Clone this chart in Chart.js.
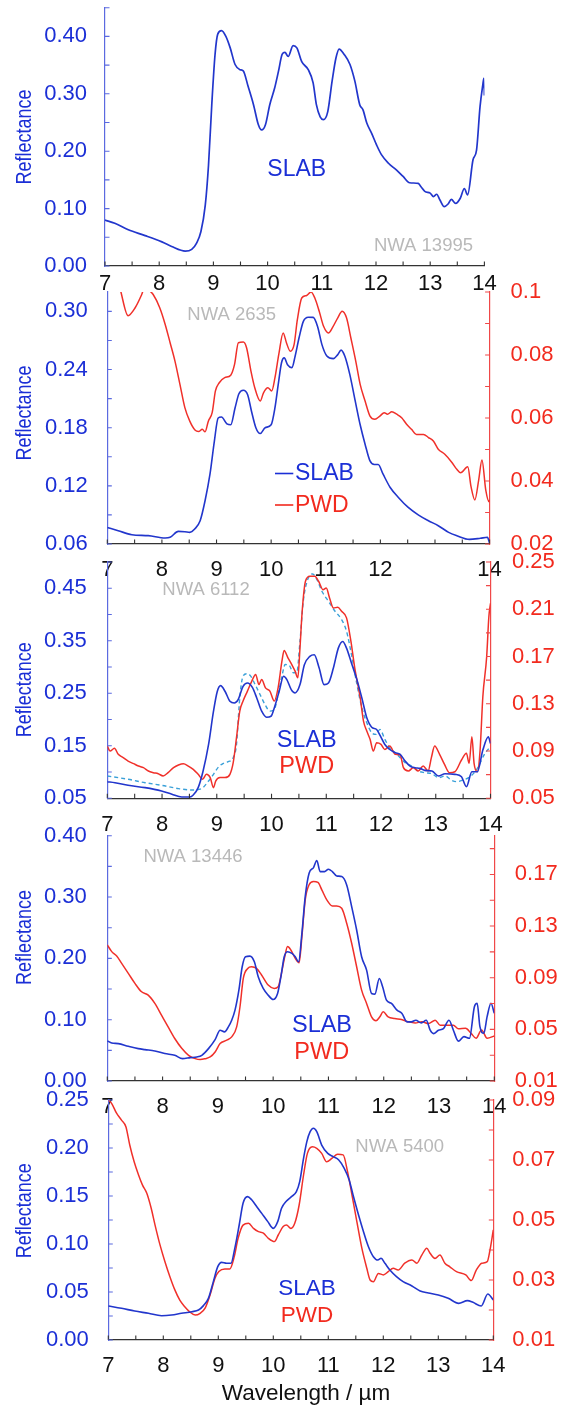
<!DOCTYPE html>
<html><head><meta charset="utf-8">
<style>
html,body{margin:0;padding:0;background:#fff;}
body{width:565px;height:1405px;position:relative;overflow:hidden;}
canvas{position:absolute;left:0;}
</style>
<script src="https://cdn.jsdelivr.net/npm/chart.js@4.4.1/dist/chart.umd.min.js"></script>
</head><body>
<script>
// ---------------- DATA ----------------
const xTicks = [7, 8, 9, 10, 11, 12, 13, 14];
const xLabels = ['7', '8', '9', '10', '11', '12', '13', '14'];
const xMarks = [7, 7.5, 8, 8.5, 9, 9.5, 10, 10.5, 11, 11.5, 12, 12.5, 13, 13.5, 14];

// Panel 1 : NWA 13995
const p1YTicks = [0, 0.1, 0.2, 0.3, 0.4];
const p1YLabels = ['0.00', '0.10', '0.20', '0.30', '0.40'];
const p1YMarks = [0, 0.05, 0.1, 0.15, 0.2, 0.25, 0.3, 0.35, 0.4, 0.45];
const p1Slab = [[7.0,0.080],[7.18,0.0744],[7.43,0.063],[7.74,0.053],[8.05,0.042],[8.23,0.034],[8.48,0.026],[8.6,0.029],[8.69,0.040],[8.77,0.060],[8.85,0.106],[8.91,0.176],[8.97,0.281],[9.03,0.368],[9.08,0.404],[9.15,0.410],[9.23,0.400],[9.31,0.380],[9.40,0.351],[9.49,0.342],[9.55,0.340],[9.64,0.313],[9.74,0.281],[9.83,0.246],[9.89,0.237],[9.96,0.246],[10.04,0.281],[10.13,0.310],[10.20,0.339],[10.27,0.369],[10.32,0.372],[10.38,0.365],[10.47,0.384],[10.54,0.380],[10.63,0.356],[10.75,0.342],[10.84,0.319],[10.90,0.281],[10.97,0.260],[11.03,0.255],[11.11,0.269],[11.19,0.322],[11.26,0.362],[11.32,0.378],[11.41,0.369],[11.52,0.351],[11.61,0.322],[11.70,0.281],[11.76,0.272],[11.83,0.249],[11.92,0.231],[12.01,0.211],[12.10,0.194],[12.23,0.179],[12.38,0.167],[12.50,0.156],[12.62,0.145],[12.78,0.144],[12.83,0.138],[12.90,0.130],[13.0,0.127],[13.06,0.121],[13.12,0.125],[13.18,0.115],[13.26,0.1035],[13.33,0.108],[13.39,0.116],[13.47,0.109],[13.555,0.118],[13.63,0.135],[13.69,0.124],[13.79,0.185],[13.855,0.202],[13.92,0.278],[13.97,0.315],[13.99,0.327],[14.0,0.297]];

// Panel 2 : NWA 2635
const p2YTicks = [0.06, 0.12, 0.18, 0.24, 0.30];
const p2YLabels = ['0.06', '0.12', '0.18', '0.24', '0.30'];
const p2YMarks = [0.06, 0.09, 0.12, 0.15, 0.18, 0.21, 0.24, 0.27, 0.30];
const p2RTicks = [0.02, 0.04, 0.06, 0.08, 0.1];
const p2RLabels = ['0.02', '0.04', '0.06', '0.08', '0.1'];
const p2RMarks = [0.02, 0.03, 0.04, 0.05, 0.06, 0.07, 0.08, 0.09, 0.1];
const p2Slab = [[7.0,0.0771],[7.2,0.0737],[7.45,0.0696],[7.75,0.0686],[8.06,0.0662],[8.15,0.0669],[8.30,0.073],[8.42,0.0727],[8.51,0.072],[8.6,0.0754],[8.7,0.084],[8.79,0.1046],[8.88,0.132],[8.96,0.166],[9.03,0.19],[9.09,0.191],[9.19,0.184],[9.26,0.183],[9.34,0.2006],[9.41,0.215],[9.49,0.2187],[9.57,0.214],[9.64,0.197],[9.72,0.18],[9.80,0.174],[9.89,0.18],[10.0,0.183],[10.07,0.2006],[10.13,0.2246],[10.19,0.247],[10.24,0.252],[10.30,0.245],[10.38,0.242],[10.44,0.254],[10.51,0.2725],[10.59,0.2897],[10.68,0.294],[10.77,0.2938],[10.85,0.2845],[10.93,0.2657],[11.02,0.254],[11.14,0.2513],[11.22,0.2554],[11.28,0.26],[11.35,0.2537],[11.44,0.235],[11.54,0.2074],[11.63,0.183],[11.72,0.163],[11.81,0.1457],[11.89,0.142],[11.96,0.142],[12.05,0.132],[12.18,0.1183],[12.33,0.108],[12.51,0.0977],[12.70,0.0898],[12.88,0.084],[13.06,0.0789],[13.25,0.072],[13.40,0.0686],[13.63,0.0648],[13.83,0.0659],[13.96,0.0669],[14.0,0.0607]];
const p2Pwd = [[7.1,0.112],[7.2,0.104],[7.25,0.1],[7.38,0.0925],[7.51,0.095],[7.63,0.0992],[7.68,0.1013],[7.75,0.1007],[7.84,0.0992],[7.96,0.095],[8.06,0.0897],[8.15,0.0839],[8.24,0.078],[8.33,0.0707],[8.42,0.0633],[8.51,0.059],[8.61,0.0561],[8.67,0.0557],[8.74,0.0564],[8.79,0.0556],[8.85,0.059],[8.92,0.0617],[8.98,0.0686],[9.05,0.0712],[9.15,0.0728],[9.26,0.0736],[9.33,0.077],[9.40,0.0839],[9.49,0.0841],[9.55,0.0823],[9.63,0.0749],[9.70,0.0696],[9.80,0.0654],[9.86,0.068],[9.94,0.0696],[10.01,0.0686],[10.07,0.0728],[10.14,0.0802],[10.22,0.087],[10.28,0.0839],[10.35,0.0812],[10.42,0.0833],[10.48,0.0912],[10.56,0.0981],[10.65,0.0989],[10.73,0.1],[10.80,0.0981],[10.88,0.0939],[10.96,0.0891],[11.05,0.087],[11.12,0.0886],[11.22,0.0918],[11.30,0.0939],[11.38,0.0918],[11.46,0.0854],[11.55,0.078],[11.63,0.0707],[11.72,0.0654],[11.81,0.0606],[11.90,0.0596],[11.99,0.0606],[12.07,0.0617],[12.13,0.0612],[12.21,0.062],[12.30,0.0612],[12.39,0.0601],[12.48,0.058],[12.57,0.0564],[12.66,0.0548],[12.79,0.0548],[12.88,0.0538],[12.97,0.0527],[13.06,0.0501],[13.18,0.0485],[13.31,0.0459],[13.40,0.0437],[13.47,0.0426],[13.6,0.0445],[13.66,0.0382],[13.73,0.034],[13.8,0.0403],[13.86,0.0467],[13.93,0.0371],[13.99,0.0334],[14.0,0.034]];

// Panel 3 : NWA 6112
const p3YTicks = [0.05, 0.15, 0.25, 0.35, 0.45];
const p3YLabels = ['0.05', '0.15', '0.25', '0.35', '0.45'];
const p3YMarks = [0.05, 0.1, 0.15, 0.2, 0.25, 0.3, 0.35, 0.4, 0.45, 0.5];
const p3RTicks = [0.05, 0.09, 0.13, 0.17, 0.21, 0.25];
const p3RLabels = ['0.05', '0.09', '0.13', '0.17', '0.21', '0.25'];
const p3RMarks = [0.05, 0.07, 0.09, 0.11, 0.13, 0.15, 0.17, 0.19, 0.21, 0.23, 0.25];
const p3Slab = [[7.0,0.0816],[7.14,0.0797],[7.38,0.0747],[7.69,0.0703],[7.99,0.0639],[8.18,0.0576],[8.36,0.0525],[8.51,0.0525],[8.57,0.0563],[8.66,0.0703],[8.75,0.102],[8.85,0.1525],[8.94,0.2158],[9.01,0.2538],[9.07,0.2646],[9.15,0.2538],[9.24,0.2348],[9.32,0.2316],[9.39,0.238],[9.48,0.2633],[9.56,0.2696],[9.65,0.2614],[9.73,0.2411],[9.82,0.2158],[9.91,0.2044],[9.99,0.2063],[10.06,0.2253],[10.14,0.2538],[10.22,0.2823],[10.28,0.276],[10.36,0.257],[10.43,0.2506],[10.52,0.2665],[10.60,0.3044],[10.70,0.3203],[10.78,0.3234],[10.87,0.2981],[10.96,0.2665],[11.04,0.2696],[11.13,0.2981],[11.22,0.336],[11.30,0.3487],[11.37,0.336],[11.46,0.3076],[11.56,0.276],[11.65,0.2411],[11.74,0.2032],[11.83,0.1854],[11.92,0.181],[11.98,0.1703],[12.07,0.1525],[12.16,0.143],[12.26,0.1367],[12.35,0.1335],[12.44,0.1209],[12.53,0.1114],[12.62,0.1082],[12.71,0.107],[12.80,0.1032],[12.93,0.1019],[13.05,0.0924],[13.17,0.0968],[13.35,0.0956],[13.47,0.091],[13.56,0.072],[13.66,0.1005],[13.76,0.1005],[13.86,0.1418],[13.96,0.167],[14.0,0.1544]];
const p3Pwd = [[7.0,0.0942],[7.05,0.09],[7.13,0.0923],[7.2,0.0872],[7.29,0.0844],[7.38,0.0815],[7.48,0.0793],[7.57,0.0773],[7.66,0.0759],[7.75,0.0731],[7.84,0.0717],[7.93,0.0708],[8.02,0.0689],[8.11,0.0717],[8.21,0.0759],[8.30,0.0782],[8.39,0.0793],[8.48,0.0773],[8.57,0.0745],[8.66,0.0703],[8.74,0.0661],[8.81,0.0703],[8.88,0.0675],[8.94,0.059],[8.98,0.0646],[9.06,0.0675],[9.15,0.0675],[9.24,0.0703],[9.30,0.0801],[9.36,0.1013],[9.42,0.1238],[9.48,0.1323],[9.56,0.1407],[9.64,0.1492],[9.71,0.1548],[9.77,0.1463],[9.82,0.1506],[9.89,0.1435],[9.97,0.1407],[10.05,0.1323],[10.12,0.1435],[10.19,0.1661],[10.23,0.1751],[10.30,0.1689],[10.37,0.1632],[10.43,0.1576],[10.48,0.152],[10.52,0.1773],[10.56,0.2083],[10.62,0.2337],[10.70,0.2379],[10.79,0.2379],[10.86,0.2337],[10.94,0.2266],[11.0,0.228],[11.06,0.2196],[11.13,0.2111],[11.21,0.2117],[11.28,0.2083],[11.37,0.2027],[11.45,0.183],[11.52,0.1604],[11.62,0.1351],[11.68,0.1154],[11.74,0.1069],[11.80,0.0999],[11.86,0.09],[11.92,0.097],[12.0,0.0956],[12.07,0.0914],[12.16,0.0942],[12.26,0.0872],[12.35,0.0866],[12.41,0.0759],[12.50,0.0731],[12.59,0.0759],[12.68,0.0731],[12.77,0.0773],[12.86,0.0731],[12.92,0.0844],[12.98,0.0942],[13.07,0.0872],[13.16,0.0787],[13.25,0.0717],[13.35,0.0725],[13.47,0.0824],[13.56,0.0881],[13.61,0.0796],[13.66,0.1021],[13.70,0.0796],[13.76,0.0725],[13.81,0.0909],[13.86,0.136],[13.93,0.1698],[13.97,0.2037],[14.0,0.215]];
const p3PwdDash = [[7.0,0.0689],[7.38,0.0661],[7.69,0.0632],[7.99,0.061],[8.30,0.0582],[8.54,0.057],[8.72,0.0582],[8.85,0.0646],[8.94,0.0703],[9.03,0.0765],[9.12,0.0796],[9.21,0.081],[9.30,0.0844],[9.36,0.0956],[9.42,0.1351],[9.48,0.1534],[9.55,0.1554],[9.62,0.1534],[9.70,0.1463],[9.79,0.1379],[9.88,0.1294],[9.97,0.1238],[10.05,0.1252],[10.12,0.1379],[10.19,0.1534],[10.25,0.1632],[10.32,0.1627],[10.40,0.1562],[10.46,0.1562],[10.52,0.183],[10.58,0.2168],[10.66,0.2351],[10.75,0.2399],[10.83,0.2351],[10.92,0.2252],[11.04,0.2168],[11.16,0.2083],[11.28,0.2013],[11.37,0.1914],[11.46,0.1717],[11.56,0.1463],[11.65,0.1266],[11.74,0.1139],[11.83,0.1055],[11.91,0.1041],[11.98,0.1083],[12.07,0.0999],[12.16,0.0928],[12.26,0.0886],[12.35,0.0844],[12.44,0.0801],[12.56,0.0773],[12.68,0.0731],[12.80,0.0717],[12.93,0.0708],[13.05,0.0675],[13.17,0.0689],[13.29,0.0652],[13.38,0.0641],[13.50,0.0655],[13.63,0.0683],[13.76,0.0754],[13.90,0.0881],[14.0,0.0937]];

// Panel 4 : NWA 13446
const p4YTicks = [0, 0.1, 0.2, 0.3, 0.4];
const p4YLabels = ['0.00', '0.10', '0.20', '0.30', '0.40'];
const p4YMarks = [0, 0.05, 0.1, 0.15, 0.2, 0.25, 0.3, 0.35, 0.4];
const p4RTicks = [0.01, 0.05, 0.09, 0.13, 0.17];
const p4RLabels = ['0.01', '0.05', '0.09', '0.13', '0.17'];
const p4RMarks = [0.01, 0.03, 0.05, 0.07, 0.09, 0.11, 0.13, 0.15, 0.17, 0.19];
const p4Slab = [[7.0,0.0654],[7.08,0.0621],[7.2,0.061],[7.38,0.0566],[7.56,0.0528],[7.68,0.0512],[7.86,0.049],[8.04,0.0447],[8.22,0.0419],[8.36,0.0365],[8.50,0.0381],[8.62,0.0392],[8.71,0.0419],[8.83,0.0528],[8.95,0.0675],[9.04,0.0828],[9.12,0.0801],[9.19,0.0882],[9.25,0.0991],[9.31,0.1155],[9.38,0.1481],[9.44,0.1863],[9.50,0.2026],[9.58,0.2037],[9.66,0.1944],[9.73,0.1699],[9.82,0.1509],[9.91,0.14],[10.0,0.1329],[10.08,0.1427],[10.14,0.1699],[10.20,0.2026],[10.26,0.2108],[10.34,0.2081],[10.40,0.2026],[10.46,0.1944],[10.52,0.2407],[10.58,0.3007],[10.65,0.3388],[10.73,0.348],[10.79,0.3595],[10.85,0.3415],[10.93,0.3415],[11.0,0.3453],[11.07,0.3415],[11.15,0.3344],[11.24,0.3333],[11.33,0.3197],[11.42,0.2843],[11.51,0.2462],[11.60,0.2026],[11.69,0.1808],[11.78,0.1427],[11.84,0.1416],[11.92,0.1672],[11.98,0.1536],[12.05,0.1318],[12.14,0.1264],[12.24,0.1155],[12.33,0.11],[12.42,0.0964],[12.50,0.0964],[12.58,0.0991],[12.68,0.0948],[12.77,0.0991],[12.84,0.0828],[12.90,0.0773],[12.99,0.0828],[13.08,0.0855],[13.18,0.0991],[13.26,0.0828],[13.35,0.065],[13.45,0.0723],[13.55,0.0696],[13.64,0.1212],[13.69,0.1268],[13.74,0.0886],[13.81,0.0778],[13.87,0.1049],[13.94,0.1268],[14.0,0.1104]];
const p4Pwd = [[7.0,0.1154],[7.08,0.1102],[7.17,0.1068],[7.26,0.1011],[7.38,0.0934],[7.50,0.0856],[7.62,0.0791],[7.74,0.0765],[7.86,0.0701],[7.98,0.061],[8.10,0.0519],[8.22,0.0429],[8.35,0.0351],[8.47,0.0299],[8.59,0.0273],[8.68,0.0266],[8.77,0.0273],[8.86,0.0286],[8.95,0.0325],[9.04,0.039],[9.16,0.0416],[9.25,0.0442],[9.34,0.0519],[9.40,0.0675],[9.46,0.0895],[9.54,0.0972],[9.61,0.0985],[9.70,0.0972],[9.79,0.0921],[9.91,0.0843],[10.02,0.0817],[10.09,0.083],[10.15,0.0934],[10.21,0.1063],[10.26,0.1141],[10.32,0.1115],[10.40,0.105],[10.47,0.1016],[10.52,0.1218],[10.58,0.1503],[10.65,0.162],[10.73,0.1645],[10.81,0.1638],[10.88,0.1581],[10.97,0.1503],[11.07,0.1456],[11.15,0.1456],[11.24,0.1438],[11.33,0.1322],[11.42,0.1167],[11.51,0.0985],[11.60,0.0804],[11.69,0.0701],[11.78,0.0597],[11.86,0.0566],[11.93,0.0597],[11.99,0.0636],[12.08,0.0597],[12.20,0.0584],[12.32,0.0576],[12.45,0.0558],[12.57,0.055],[12.69,0.0558],[12.81,0.0545],[12.93,0.0571],[13.02,0.0532],[13.14,0.0532],[13.26,0.0532],[13.35,0.0505],[13.48,0.0508],[13.58,0.0469],[13.67,0.0431],[13.77,0.0495],[13.87,0.0431],[14.0,0.0449]];

// Panel 5 : NWA 5400
const p5YTicks = [0, 0.05, 0.1, 0.15, 0.2, 0.25];
const p5YLabels = ['0.00', '0.05', '0.10', '0.15', '0.20', '0.25'];
const p5YMarks = [0, 0.025, 0.05, 0.075, 0.1, 0.125, 0.15, 0.175, 0.2, 0.225, 0.25];
const p5RTicks = [0.01, 0.03, 0.05, 0.07, 0.09];
const p5RLabels = ['0.01', '0.03', '0.05', '0.07', '0.09'];
const p5RMarks = [0.01, 0.02, 0.03, 0.04, 0.05, 0.06, 0.07, 0.08, 0.09];
const p5Slab = [[7.0,0.0354],[7.24,0.033],[7.48,0.0302],[7.73,0.0278],[7.97,0.0253],[8.15,0.026],[8.33,0.0278],[8.52,0.0295],[8.64,0.0312],[8.73,0.0358],[8.82,0.0434],[8.91,0.0608],[8.99,0.0764],[9.06,0.0809],[9.15,0.0799],[9.23,0.0799],[9.30,0.0955],[9.38,0.1198],[9.45,0.1424],[9.53,0.1493],[9.61,0.1458],[9.70,0.1389],[9.79,0.1319],[9.90,0.1233],[10.0,0.1163],[10.08,0.1233],[10.15,0.1372],[10.24,0.1448],[10.33,0.1493],[10.42,0.1545],[10.48,0.1649],[10.55,0.1892],[10.61,0.2066],[10.67,0.217],[10.73,0.2205],[10.79,0.217],[10.88,0.2031],[10.99,0.1944],[11.09,0.191],[11.19,0.1875],[11.29,0.1788],[11.38,0.1667],[11.45,0.151],[11.55,0.1302],[11.64,0.1128],[11.73,0.0972],[11.82,0.0868],[11.90,0.0833],[11.96,0.0851],[12.03,0.0799],[12.12,0.0729],[12.24,0.066],[12.36,0.0608],[12.52,0.0563],[12.67,0.051],[12.82,0.049],[13.0,0.0469],[13.18,0.0434],[13.37,0.0382],[13.53,0.041],[13.63,0.0392],[13.78,0.0354],[13.90,0.0479],[14.0,0.0417]];
const p5Pwd = [[7.0,0.09],[7.06,0.0889],[7.15,0.0856],[7.24,0.0833],[7.32,0.0811],[7.39,0.075],[7.47,0.0694],[7.55,0.065],[7.62,0.0617],[7.70,0.0589],[7.78,0.0539],[7.85,0.0483],[7.94,0.0417],[8.03,0.0361],[8.12,0.0311],[8.21,0.0267],[8.30,0.0233],[8.39,0.0211],[8.48,0.0194],[8.58,0.0183],[8.67,0.0189],[8.76,0.0206],[8.85,0.025],[8.94,0.0306],[9.01,0.0328],[9.12,0.0337],[9.21,0.0337],[9.29,0.0378],[9.36,0.0439],[9.45,0.0483],[9.55,0.0489],[9.64,0.0472],[9.73,0.0461],[9.82,0.0456],[9.91,0.0439],[10.02,0.0428],[10.09,0.045],[10.18,0.0478],[10.24,0.0483],[10.32,0.0472],[10.39,0.0489],[10.47,0.055],[10.55,0.065],[10.62,0.0722],[10.71,0.0744],[10.79,0.0739],[10.88,0.0722],[10.97,0.0694],[11.07,0.0706],[11.17,0.0719],[11.27,0.0717],[11.35,0.0661],[11.42,0.0594],[11.52,0.0494],[11.61,0.0406],[11.70,0.0339],[11.76,0.03],[11.82,0.0294],[11.91,0.0322],[12.0,0.0317],[12.09,0.0328],[12.18,0.0339],[12.27,0.0333],[12.39,0.0356],[12.52,0.0367],[12.61,0.0356],[12.70,0.0383],[12.79,0.0406],[12.85,0.0389],[12.94,0.0372],[13.03,0.0383],[13.12,0.0356],[13.21,0.0344],[13.33,0.0328],[13.50,0.0317],[13.60,0.0298],[13.69,0.0333],[13.79,0.0356],[13.89,0.0361],[13.94,0.04],[14.0,0.0467]];

// ---------------- STYLE / LAYOUT ----------------
const FONT = '"Liberation Sans", Arial, Helvetica, sans-serif';
const C = {
  blueText: '#1b2fd6', redText: '#f22a1e', blueLine: '#2236cc', redLine: '#f0302a',
  dash: '#3aa0d8', axL: '#5b6ae0', axR: '#f04848', axX: '#333333', gray: '#b9b9b9', black: '#111111'
};

const panels = [
  { L:105, R:484.4, T:7.7, B:266, bm:40, xPad:5,
    yL:{min:0, max:0.45, ticks:p1YTicks, labels:p1YLabels, marks:p1YMarks, pad:18},
    yR:null,
    series:[{data:p1Slab, axis:'y', color:C.blueLine, w:1.7}],
    texts:[
      {t:'SLAB', x:296.7, y:169.5, size:23, color:C.blueText},
      {t:'NWA 13995', x:423.5, y:245.5, size:18.5, color:C.gray},
      {t:'Reflectance', x:25, y:137, size:18, color:C.blueText, rot:true, sx:1.2}
    ], lines:[], masks:[] },
  { L:107.3, R:489.6, T:292, B:544, bm:45, xPad:13,
    yL:{min:0.06, max:0.32, ticks:p2YTicks, labels:p2YLabels, marks:p2YMarks, pad:19.5},
    yR:{min:0.02, max:0.1, ticks:p2RTicks, labels:p2RLabels, marks:p2RMarks, pad:21},
    series:[{data:p2Slab, axis:'y', color:C.blueLine, w:1.6},{data:p2Pwd, axis:'y2', color:C.redLine, w:1.5}],
    texts:[
      {t:'NWA 2635', x:231.7, y:314.7, size:18.5, color:C.gray},
      {t:'SLAB', x:295, y:474, size:23, color:C.blueText, align:'left'},
      {t:'PWD', x:295, y:506, size:23, color:C.redText, align:'left'},
      {t:'Reflectance', x:25, y:413, size:18, color:C.blueText, rot:true, sx:1.2}
    ],
    lines:[{x1:275, x2:293.3, y:473.5, color:C.blueText},{x1:275, x2:293.3, y:505, color:C.redText}], masks:[] },
  { L:107.3, R:490.5, T:562, B:798.3, bm:45, xPad:13,
    yL:{min:0.05, max:0.5, ticks:p3YTicks, labels:p3YLabels, marks:p3YMarks, pad:20.5},
    yR:{min:0.05, max:0.25, ticks:p3RTicks, labels:p3RLabels, marks:p3RMarks, pad:21.5},
    series:[{data:p3Slab, axis:'y', color:C.blueLine, w:1.6},{data:p3Pwd, axis:'y2', color:C.redLine, w:1.5},{data:p3PwdDash, axis:'y2', color:C.dash, w:1.4, dash:[4,3]}],
    texts:[
      {t:'NWA 6112', x:206, y:590, size:18.5, color:C.gray},
      {t:'SLAB', x:306.7, y:741, size:23.5, color:C.blueText},
      {t:'PWD', x:306.7, y:767, size:23.5, color:C.redText},
      {t:'Reflectance', x:25, y:689.7, size:18, color:C.blueText, rot:true, sx:1.2}
    ], lines:[],
    masks:[[115, 576.5, 470, 600],[420, 556, 452, 577]] },
  { L:107.3, R:494.3, T:835.7, B:1081, bm:45, xPad:13,
    yL:{min:0, max:0.4, ticks:p4YTicks, labels:p4YLabels, marks:p4YMarks, pad:20.5},
    yR:{min:0.01, max:0.2, ticks:p4RTicks, labels:p4RLabels, marks:p4RMarks, pad:20.5},
    series:[{data:p4Slab, axis:'y', color:C.blueLine, w:1.6},{data:p4Pwd, axis:'y2', color:C.redLine, w:1.5}],
    texts:[
      {t:'NWA 13446', x:193, y:857.3, size:18.5, color:C.gray},
      {t:'SLAB', x:322, y:1026, size:23.5, color:C.blueText},
      {t:'PWD', x:321.7, y:1053, size:23.5, color:C.redText},
      {t:'Reflectance', x:25, y:937.5, size:18, color:C.blueText, rot:true, sx:1.2}
    ], lines:[], masks:[] },
  { L:108.3, R:493.3, T:1100, B:1340, bm:66, xPad:13,
    yL:{min:0, max:0.25, ticks:p5YTicks, labels:p5YLabels, marks:p5YMarks, pad:19.5},
    yR:{min:0.01, max:0.09, ticks:p5RTicks, labels:p5RLabels, marks:p5RMarks, pad:19},
    series:[{data:p5Slab, axis:'y', color:C.blueLine, w:1.6},{data:p5Pwd, axis:'y2', color:C.redLine, w:1.5}],
    texts:[
      {t:'NWA 5400', x:399.7, y:1146.7, size:18.5, color:C.gray},
      {t:'SLAB', x:307, y:1289, size:22.5, color:C.blueText},
      {t:'PWD', x:307, y:1315.5, size:22.5, color:C.redText},
      {t:'Reflectance', x:25, y:1210.7, size:18, color:C.blueText, rot:true, sx:1.2},
      {t:'Wavelength / µm', x:306, y:1394, size:22.5, color:C.black}
    ], lines:[], masks:[] }
];

function makeDecor(P, offY) {
  return {
    id: 'decor',
    beforeDraw(chart) {
      const ctx = chart.ctx;
      ctx.save(); ctx.fillStyle = '#ffffff';
      P.masks.forEach(m => ctx.fillRect(m[0], m[1] - offY, m[2] - m[0], m[3] - m[1]));
      ctx.restore();
    },
    afterDraw(chart) {
      const ctx = chart.ctx, a = chart.chartArea;
      ctx.save();
      const marks = [{scale:'x', values:xMarks, color:C.axX}];
      if (P.yL) marks.push({scale:'y', values:P.yL.marks, color:C.axL});
      if (P.yR) marks.push({scale:'y2', values:P.yR.marks, color:C.axR});
      marks.forEach(mk => {
        const s = chart.scales[mk.scale];
        ctx.strokeStyle = mk.color; ctx.lineWidth = 1.1; ctx.beginPath();
        mk.values.forEach(v => {
          const p = s.getPixelForValue(v);
          if (mk.scale === 'x') { ctx.moveTo(p, a.bottom); ctx.lineTo(p, a.bottom - 4.5); }
          else if (mk.scale === 'y') { ctx.moveTo(a.left, p); ctx.lineTo(a.left + 4.5, p); }
          else { ctx.moveTo(a.right, p); ctx.lineTo(a.right - 4.5, p); }
        });
        ctx.stroke();
      });
      P.lines.forEach(l => {
        ctx.strokeStyle = l.color; ctx.lineWidth = 1.6; ctx.beginPath();
        ctx.moveTo(l.x1, l.y - offY); ctx.lineTo(l.x2, l.y - offY); ctx.stroke();
      });
      P.texts.forEach(t => {
        ctx.save();
        ctx.font = t.size + 'px ' + FONT;
        ctx.fillStyle = t.color; ctx.textBaseline = 'middle'; ctx.textAlign = t.align || 'center';
        ctx.translate(t.x, t.y - offY);
        if (t.rot) { ctx.rotate(-Math.PI / 2); ctx.scale(1, t.sx || 1); }
        else if (t.sx) { ctx.scale(t.sx, 1); }
        ctx.fillText(t.t, 0, 0);
        ctx.restore();
      });
      ctx.restore();
    }
  };
}

function yAxis(cfg, pos, color, textColor, width) {
  return {
    type: 'linear', position: pos, min: cfg.min, max: cfg.max,
    grid: { display: false, drawTicks: false },
    border: { display: true, color: color, width: 1.2 },
    ticks: { autoSkip: false, color: textColor, font: { family: FONT, size: 22 }, padding: cfg.pad,
             callback: (v, i) => cfg.labels[i] },
    afterBuildTicks: s => { s.ticks = cfg.ticks.map(v => ({ value: v })); },
    afterFit: s => { s.width = width; s.paddingTop = 0; s.paddingBottom = 0; s.paddingLeft = 0; s.paddingRight = 0; }
  };
}

panels.forEach(P => {
  const top = Math.round(P.T) - 30;
  const h = Math.ceil(P.B - top + P.bm);
  const xH = h - (P.B - top);
  const cv = document.createElement('canvas');
  cv.width = 565; cv.height = h;
  cv.style.top = top + 'px'; cv.style.width = '565px'; cv.style.height = h + 'px';
  document.body.appendChild(cv);

  const scales = {
    x: {
      type: 'linear', position: 'bottom', min: 7, max: 14,
      grid: { display: false, drawTicks: false },
      border: { display: true, color: C.axX, width: 1.2 },
      ticks: { autoSkip: false, maxRotation: 0, minRotation: 0, color: C.black,
               font: { family: FONT, size: 22 }, padding: P.xPad, callback: (v, i) => xLabels[i] },
      afterBuildTicks: s => { s.ticks = xTicks.map(v => ({ value: v })); },
      afterFit: s => { s.height = xH; s.paddingLeft = 0; s.paddingRight = 0; s.paddingTop = 0; s.paddingBottom = 0; }
    },
    y: yAxis(P.yL, 'left', C.axL, C.blueText, P.L)
  };
  if (P.yR) {
    scales.y2 = yAxis(P.yR, 'right', C.axR, C.redText, 565 - P.R);
  } else {
    scales.y2 = {
      type: 'linear', position: 'right', min: 0, max: 1,
      grid: { display: false, drawTicks: false }, border: { display: false },
      ticks: { display: false },
      afterFit: s => { s.width = 565 - P.R; s.paddingTop = 0; s.paddingBottom = 0; s.paddingLeft = 0; s.paddingRight = 0; }
    };
  }

  new Chart(cv, {
    type: 'line',
    data: {
      datasets: P.series.map(s => ({
        data: s.data.map(p => ({ x: p[0], y: p[1] })),
        xAxisID: 'x', yAxisID: s.axis,
        borderColor: s.color, borderWidth: s.w, borderDash: s.dash || [],
        pointRadius: 0, pointHoverRadius: 0, fill: false,
        cubicInterpolationMode: 'monotone', tension: 0.3
      }))
    },
    options: {
      responsive: false, animation: false, devicePixelRatio: 1,
      events: [],
      layout: { autoPadding: false, padding: { top: P.T - top, left: 0, right: 0, bottom: 0 } },
      plugins: { legend: { display: false }, tooltip: { enabled: false } },
      scales: scales
    },
    plugins: [makeDecor(P, top)]
  });
});
</script>
</body></html>
